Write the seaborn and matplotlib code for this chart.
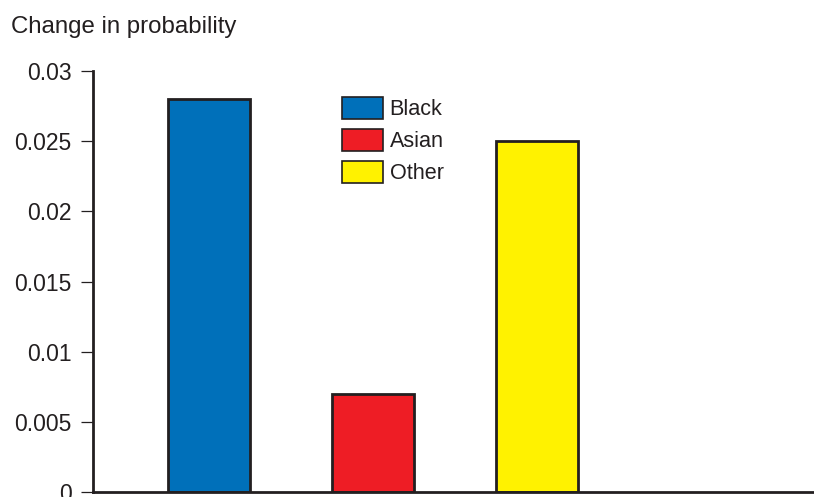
import pandas as pd
import matplotlib.pyplot as plt
import seaborn as sns
from matplotlib.patches import Patch

# Datos
groups = ["Black", "Asian", "Other"]
change = [0.028, 0.007, 0.025]
colors = ["#0070BA", "#EE1D25", "#FFF200"]
yticks = [0, 0.005, 0.01, 0.015, 0.02, 0.025, 0.03]
ytick_labels = ["0", "0.005", "0.01", "0.015", "0.02", "0.025", "0.03"]

df = pd.DataFrame({"group": groups, "change": change})

sns.set_style("white")
plt.rcParams["font.family"] = ["Liberation Sans", "DejaVu Sans"]
edge = "#231F20"

fig = plt.figure(figsize=(8.14, 4.97), dpi=100)
ax = fig.add_axes([0.1143, 0.01, 0.884, 0.847])

sns.barplot(x="group", y="change", hue="group", data=df, palette=colors,
            width=0.5, edgecolor=edge, linewidth=2, legend=False, ax=ax,
            saturation=1)

ax.set_ylim(0, 0.03)
ax.set_xlim(-0.707, 3.68)
ax.set_yticks(yticks)
ax.set_yticklabels(ytick_labels, fontsize=16.5, color=edge)
ax.set_xticks([])
ax.set_xlabel("")
ax.set_ylabel("")
ax.tick_params(axis="y", direction="out", length=9, width=0.9, color=edge,
               left=True, pad=6.5)

for side in ["top", "right"]:
    ax.spines[side].set_visible(False)
for side in ["left", "bottom"]:
    ax.spines[side].set_color(edge)
    ax.spines[side].set_linewidth(2)

fig.text(11 / 814, 1 - 33 / 497, "Change in probability", fontsize=17.3,
         va="baseline", ha="left", color=edge)

handles = [Patch(facecolor=c, edgecolor=edge, linewidth=1.2) for c in colors]
ax.legend(handles, groups, loc="upper left",
          bbox_to_anchor=(342 / 814, 1 - 97 / 497), bbox_transform=fig.transFigure,
          frameon=False, fontsize=15.6, handlelength=1.9, handleheight=1.15,
          handletextpad=0.3, labelspacing=0.42, borderpad=0, borderaxespad=0,
          labelcolor=edge)

fig.savefig("out.png", dpi=100)
